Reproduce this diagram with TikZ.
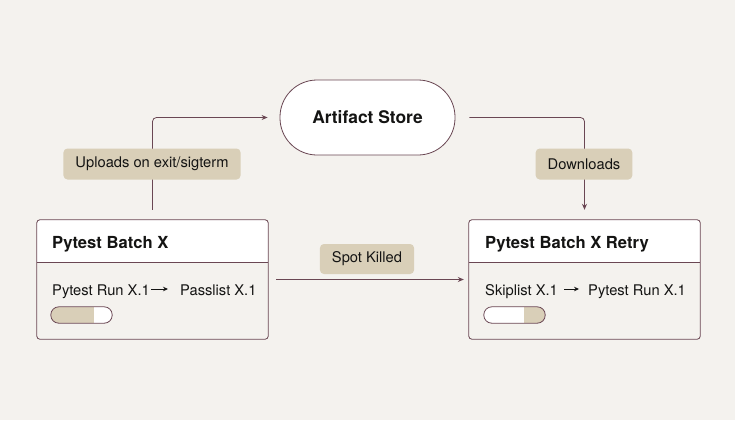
\documentclass[tikz,border=0pt]{standalone}
\usepackage{fontspec}
\setmainfont{TeX Gyre Heros}
\usetikzlibrary{positioning,arrows.meta}
\definecolor{paper}{HTML}{F4F2EE}
\definecolor{wine}{HTML}{6A4753}
\definecolor{sand}{HTML}{D9CFB8}
\definecolor{ink}{HTML}{141413}

\begin{document}
\begin{tikzpicture}[x=1pt,y=-1pt,
  box/.style={fill=paper,minimum width=231pt,minimum height=119pt,inner sep=0pt},
  title/.style={font=\bfseries\fontsize{16.6}{19}\selectfont,text=ink,anchor=base west,inner sep=0pt},
  item/.style={font=\fontsize{14.7}{17}\selectfont,text=ink,anchor=base west,inner sep=0pt,text height=12pt,text depth=0pt},
  tag/.style={fill=sand,rounded corners=4pt,font=\fontsize{14.7}{17}\selectfont,text=ink,minimum height=31pt,inner xsep=12pt},
  store/.style={draw=wine,fill=white,rounded corners=37pt,minimum width=175pt,minimum height=75pt,font=\bfseries\fontsize{17.4}{20}\selectfont,text=ink,line width=0.8pt},
  flow/.style={draw=wine,line width=0.8pt,-{Stealth[length=6pt,width=5pt]}},
  tiny/.style={draw=ink,line width=0.9pt,-{Stealth[length=5pt,width=4.5pt]}},
  pill/.style={minimum width=61pt,minimum height=16pt,inner sep=0pt}]
\useasboundingbox[fill=paper] (0,0) rectangle (735,420);
%%%%%%%%%%%%%%
\node[box] (batch) at (152.5,279.5) {};
\node[box] (retry) at (584.5,279.5) {};
\node[store] (store) at (367.5,117.5) {Artifact Store};
%%%%%%%%%%%%%%
\begin{scope}
\clip[rounded corners=3pt] (batch.north west) rectangle (batch.south east);
\fill[white] (batch.north west) rectangle ([yshift=-43pt]batch.north east);
\end{scope}
\begin{scope}
\clip[rounded corners=3pt] (retry.north west) rectangle (retry.south east);
\fill[white] (retry.north west) rectangle ([yshift=-43pt]retry.north east);
\end{scope}
\draw[wine,line width=0.8pt,rounded corners=3pt] (batch.north west) rectangle (batch.south east);
\draw[wine,line width=0.8pt,rounded corners=3pt] (retry.north west) rectangle (retry.south east);
\draw[wine,line width=0.8pt] ([yshift=-43pt]batch.north west) -- ([yshift=-43pt]batch.north east);
\draw[wine,line width=0.8pt] ([yshift=-43pt]retry.north west) -- ([yshift=-43pt]retry.north east);
%%%%%%%%%%%%%%
\node[title] (batchtitle) at (52,248) {Pytest Batch X};
\node[title] (retrytitle) at (485,248) {Pytest Batch X Retry};
%%%%%%%%%%%%%%
\node[item] (batchrun) at (52,295) {Pytest Run X.1};
\node[item,base right=30pt of batchrun] (batchpass) {Passlist X.1};
\node[item] (retryskip) at (485,295) {Skiplist X.1};
\node[item,base right=30pt of retryskip] (retryrun) {Pytest Run X.1};
\draw[tiny,shorten <=1pt,shorten >=12pt] (batchrun) -- (batchpass);
\draw[tiny,shorten <=6pt,shorten >=9pt] (retryskip) -- (retryrun);
%%%%%%%%%%%%%%
\node[pill] (batchbar) at (81.5,315) {};
\node[pill] (retrybar) at (514.5,315) {};
\begin{scope}
\clip[rounded corners=8pt] (batchbar.north west) rectangle (batchbar.south east);
\fill[sand] (batchbar.north west) rectangle ([xshift=-18pt]batchbar.south east);
\fill[white] ([xshift=-18pt]batchbar.north east) rectangle (batchbar.south east);
\end{scope}
\begin{scope}
\clip[rounded corners=8pt] (retrybar.north west) rectangle (retrybar.south east);
\fill[white] (retrybar.north west) rectangle ([xshift=-21pt]retrybar.south east);
\fill[sand] ([xshift=-21pt]retrybar.north east) rectangle (retrybar.south east);
\end{scope}
\draw[wine,line width=0.8pt,rounded corners=8pt] (batchbar.north west) rectangle (batchbar.south east);
\draw[wine,line width=0.8pt,rounded corners=8pt] (retrybar.north west) rectangle (retrybar.south east);
%%%%%%%%%%%%%%
\draw[flow,rounded corners=4pt,shorten <=10pt,shorten >=12pt] (batch.north) |- (store.west);
\draw[flow,rounded corners=4pt,shorten <=14pt,shorten >=10pt] (store.east) -| (retry.north);
\draw[flow,shorten <=8pt,shorten >=5pt] (batch) -- (retry);
%%%%%%%%%%%%%%
\node[tag] (upload) at (152,164) {Uploads on exit/sigterm};
\node[tag] (download) at (584,164) {Downloads};
\node[tag,minimum height=30pt] (killed) at (367,259) {Spot Killed};
\end{tikzpicture}
\end{document}
